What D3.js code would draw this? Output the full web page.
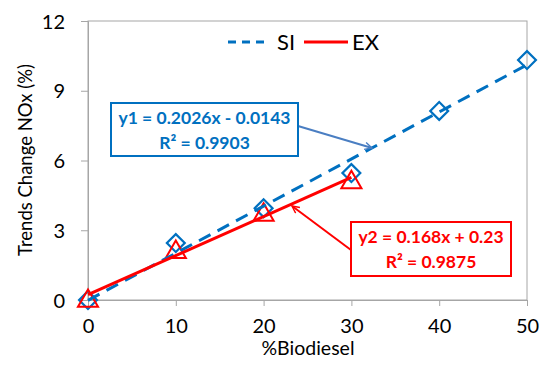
<!DOCTYPE html>
<html><head><meta charset="utf-8">
<script src="https://cdn.jsdelivr.net/npm/d3@7"></script>
<style>body{margin:0;background:#fff}svg{display:block}text{font-family:Lato,"Open Sans",sans-serif}</style>
</head><body><svg id="c" width="550" height="369"></svg>
<script>
const xTicks = [0, 10, 20, 30, 40, 50];
const yTicks = [0, 3, 6, 9, 12];
const siX = [0, 10, 20, 30, 40, 50];
const siY = [0, 2.45, 3.95, 5.46, 8.13, 10.32];
const exX = [0, 10, 20, 30];
const exY = [0, 2.1, 3.7, 5.1];
const siFit = [0.2026, -0.0143];
const exFit = [0.168, 0.23];
const siLabel = ["y1 = 0.2026x - 0.0143", "R\u00b2 = 0.9903"];
const exLabel = ["y2 = 0.168x + 0.23", "R\u00b2 = 0.9875"];
const seriesNames = ["SI", "EX"];

const blue = "#0070C0", red = "#FF0000", axisC = "#A6A6A6";
const svg = d3.select("#c");
const x = d3.scaleLinear().domain([0, 50]).range([88, 527]);
const y = d3.scaleLinear().domain([0, 12]).range([300, 21]);

svg.append("rect").attr("x", 88).attr("y", 21).attr("width", 439).attr("height", 279)
  .attr("fill", "none").attr("stroke", axisC).attr("stroke-width", 1);

const xa = svg.append("g").attr("transform", "translate(0,300)")
  .call(d3.axisBottom(x).tickValues(xTicks).tickSize(6).tickPadding(13));
const ya = svg.append("g").attr("transform", "translate(88,0)")
  .call(d3.axisLeft(y).tickValues(yTicks).tickSize(7).tickPadding(16));
[xa, ya].forEach(a => {
  a.select(".domain").attr("stroke", axisC);
  a.selectAll(".tick line").attr("stroke", axisC);
  a.selectAll("text").attr("font-size", 20).attr("fill", "#000")
    .style("font-family", "Lato,'Open Sans',sans-serif");
});
ya.selectAll("text").attr("dy", "0.35em");

svg.append("text").attr("x", 308).attr("y", 355).attr("text-anchor", "middle")
  .attr("font-size", 19.5).text("%Biodiesel");
svg.append("text").attr("transform", "translate(32,160) rotate(-90)").attr("text-anchor", "middle")
  .attr("font-size", 18.5).text("Trends Change NOx (%)");

// markers
svg.append("g").selectAll("path").data(siX).join("path")
  .attr("d", d3.symbol().type(d3.symbolSquare).size(160))
  .attr("transform", (d, i) => `translate(${x(d)},${y(siY[i])}) rotate(45)`)
  .attr("fill", "none").attr("stroke", blue).attr("stroke-width", 2.2);
svg.append("g").selectAll("path").data(exX).join("path")
  .attr("d", d3.symbol().type(d3.symbolTriangle).size(175))
  .attr("transform", (d, i) => `translate(${x(d)},${y(exY[i]) + 1})`)
  .attr("fill", "none").attr("stroke", red).attr("stroke-width", 2);

// trendlines
const line = d3.line().x(d => x(d[0])).y(d => y(d[1]));
const siEnds = [d3.min(siX), d3.max(siX)].map(v => [v, siFit[0] * v + siFit[1]]);
const exEnds = [d3.min(exX), d3.max(exX)].map(v => [v, exFit[0] * v + exFit[1]]);
svg.append("path").attr("d", line(siEnds)).attr("fill", "none").attr("stroke", blue)
  .attr("stroke-width", 3).attr("stroke-dasharray", "13,8");
svg.append("path").attr("d", line(exEnds)).attr("fill", "none").attr("stroke", red)
  .attr("stroke-width", 3);

// legend
svg.append("line").attr("x1", 228).attr("x2", 264).attr("y1", 42).attr("y2", 42)
  .attr("stroke", blue).attr("stroke-width", 3).attr("stroke-dasharray", "8,6");
svg.append("text").attr("x", 277).attr("y", 50).attr("font-size", 22).text(seriesNames[0]);
svg.append("line").attr("x1", 304).attr("x2", 348).attr("y1", 42).attr("y2", 42)
  .attr("stroke", red).attr("stroke-width", 3);
svg.append("text").attr("x", 352).attr("y", 50).attr("font-size", 22).text(seriesNames[1]);

const defs = svg.append("defs");
function mk(id, c) {
  defs.append("marker").attr("id", id).attr("viewBox", "0 0 10 10").attr("refX", 9).attr("refY", 5)
    .attr("markerWidth", 9).attr("markerHeight", 9).attr("markerUnits", "userSpaceOnUse").attr("orient", "auto")
    .append("path").attr("d", "M1,1 L9,5 L1,9").attr("fill", "none").attr("stroke", c).attr("stroke-width", 1.6);
}
mk("ab", "#4A7EC2"); mk("ar", red);

svg.append("line").attr("x1", 298).attr("y1", 126).attr("x2", 372).attr("y2", 148)
  .attr("stroke", "#4A7EC2").attr("stroke-width", 2).attr("marker-end", "url(#ab)");
svg.append("rect").attr("x", 111).attr("y", 103).attr("width", 187).attr("height", 53)
  .attr("fill", "#fff").attr("stroke", blue).attr("stroke-width", 2);
svg.selectAll(".sl").data(siLabel).join("text").attr("x", 204.5).attr("y", (d, i) => 124 + i * 25)
  .attr("text-anchor", "middle").attr("font-size", 17.5).attr("font-weight", "bold").attr("fill", blue).text(d => d);

svg.append("line").attr("x1", 351).attr("y1", 250).attr("x2", 292).attr("y2", 206)
  .attr("stroke", red).attr("stroke-width", 2).attr("marker-end", "url(#ar)");
svg.append("rect").attr("x", 351).attr("y", 222).attr("width", 160).attr("height", 54)
  .attr("fill", "#fff").attr("stroke", red).attr("stroke-width", 2);
svg.selectAll(".el").data(exLabel).join("text").attr("x", 431).attr("y", (d, i) => 243 + i * 25)
  .attr("text-anchor", "middle").attr("font-size", 17.5).attr("font-weight", "bold").attr("fill", red).text(d => d);
</script></body></html>
